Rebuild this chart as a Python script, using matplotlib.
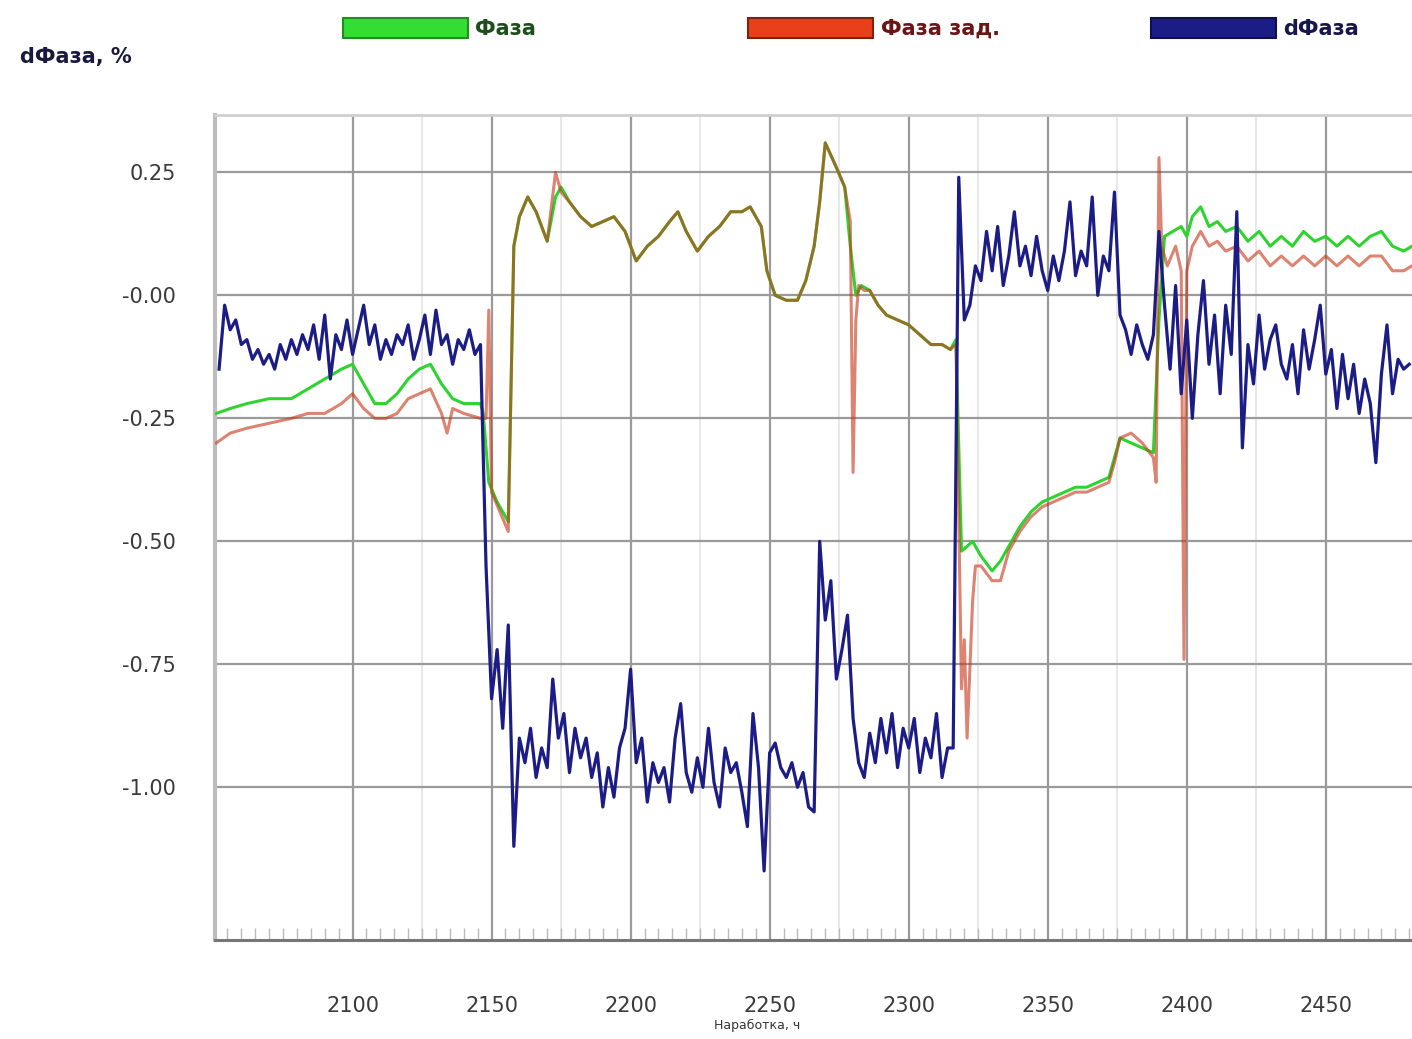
import numpy as np
import matplotlib.pyplot as plt
from matplotlib.patches import Patch
from matplotlib.ticker import MultipleLocator

# --- data -----------------------------------------------------------------
hours = np.arange(2052, 2482, 2)

dphase = [
    -0.15, -0.02, -0.07, -0.05, -0.10, -0.09, -0.13, -0.11, -0.14, -0.12,
    -0.15, -0.10, -0.13, -0.09, -0.12, -0.08, -0.11, -0.06, -0.13, -0.04,
    -0.17, -0.08, -0.11, -0.05, -0.12, -0.07, -0.02, -0.10, -0.06, -0.13,
    -0.09, -0.12, -0.08, -0.10, -0.06, -0.13, -0.09, -0.04, -0.12, -0.03,
    -0.10, -0.08, -0.14, -0.09, -0.11, -0.07, -0.12, -0.10,
    -0.55, -0.82, -0.72, -0.88, -0.67, -1.12, -0.90, -0.95, -0.88, -0.98,
    -0.92, -0.96, -0.78, -0.90, -0.85, -0.97, -0.88, -0.94, -0.90, -0.98,
    -0.93, -1.04, -0.96, -1.02, -0.92, -0.88, -0.76, -0.95, -0.90, -1.03,
    -0.95, -0.99, -0.96, -1.03, -0.90, -0.83, -0.97, -1.01, -0.94, -1.00,
    -0.88, -0.99, -1.04, -0.92, -0.97, -0.95, -1.01, -1.08, -0.85, -0.96,
    -1.17, -0.93, -0.91, -0.96, -0.98, -0.95, -1.00, -0.97, -1.04, -1.05,
    -0.50, -0.66, -0.58, -0.78, -0.72, -0.65, -0.86, -0.95, -0.98, -0.89,
    -0.95, -0.86, -0.93, -0.85, -0.96, -0.88, -0.92, -0.86, -0.97, -0.90,
    -0.94, -0.85, -0.98, -0.92,
    -0.92, 0.24, -0.05, -0.02, 0.06, 0.03, 0.13, 0.05, 0.14, 0.02,
    0.08, 0.17, 0.06, 0.10, 0.04, 0.12, 0.05, 0.01, 0.08, 0.03,
    0.09, 0.19, 0.04, 0.09, 0.06, 0.20, 0.00, 0.08, 0.05, 0.21,
    -0.04, -0.07, -0.12, -0.06, -0.10, -0.13, -0.08,
    0.13, -0.02, -0.15, 0.02, -0.20, -0.05, -0.25, -0.08, 0.03, -0.14,
    -0.04, -0.20, -0.02, -0.12, 0.17, -0.31, -0.10, -0.18, -0.04, -0.15,
    -0.09, -0.06, -0.14, -0.17, -0.10, -0.20, -0.07, -0.15, -0.09, -0.02,
    -0.16, -0.11, -0.23, -0.12, -0.21, -0.14, -0.24, -0.17, -0.22, -0.34,
    -0.16, -0.06, -0.20, -0.13, -0.15, -0.14,
]

phase_h = [2051, 2056, 2062, 2070, 2078, 2084, 2090, 2096, 2100, 2104,
           2108, 2112, 2116, 2120, 2124, 2128, 2132, 2136, 2140, 2146,
           2147, 2149, 2152, 2156, 2158, 2160, 2163, 2166, 2170, 2173,
           2175, 2178, 2182, 2186, 2190, 2194, 2198, 2202, 2206, 2210,
           2214, 2217, 2220, 2224, 2228, 2232, 2236, 2240, 2243, 2247,
           2249, 2252, 2256, 2260, 2263, 2266, 2268, 2270, 2274, 2277,
           2279, 2281, 2283, 2286, 2289, 2292, 2296, 2300, 2304, 2308,
           2312, 2315, 2317, 2319, 2323, 2326, 2330, 2333, 2336, 2340,
           2344, 2348, 2352, 2356, 2360, 2364, 2368, 2372, 2374, 2376,
           2380, 2384, 2388, 2390, 2392, 2395, 2398, 2400, 2402, 2405,
           2408, 2411, 2414, 2418, 2422, 2426, 2430, 2434, 2438, 2442,
           2446, 2450, 2454, 2458, 2462, 2466, 2470, 2474, 2478, 2481]
phase = [-0.24, -0.23, -0.22, -0.21, -0.21, -0.19, -0.17, -0.15, -0.14, -0.18,
         -0.22, -0.22, -0.20, -0.17, -0.15, -0.14, -0.18, -0.21, -0.22, -0.22,
         -0.24, -0.38, -0.42, -0.46, 0.10, 0.16, 0.20, 0.17, 0.11, 0.20,
         0.22, 0.19, 0.16, 0.14, 0.15, 0.16, 0.13, 0.07, 0.10, 0.12,
         0.15, 0.17, 0.13, 0.09, 0.12, 0.14, 0.17, 0.17, 0.18, 0.14,
         0.05, 0.00, -0.01, -0.01, 0.03, 0.10, 0.19, 0.31, 0.26, 0.22,
         0.10, 0.00, 0.02, 0.01, -0.02, -0.04, -0.05, -0.06, -0.08, -0.10,
         -0.10, -0.11, -0.09, -0.52, -0.50, -0.53, -0.56, -0.54, -0.51, -0.47,
         -0.44, -0.42, -0.41, -0.40, -0.39, -0.39, -0.38, -0.37, -0.33, -0.29,
         -0.30, -0.31, -0.32, -0.05, 0.12, 0.13, 0.14, 0.12, 0.16, 0.18,
         0.14, 0.15, 0.13, 0.14, 0.11, 0.13, 0.10, 0.12, 0.10, 0.13,
         0.11, 0.12, 0.10, 0.12, 0.10, 0.12, 0.13, 0.10, 0.09, 0.10]

phase_set_h = [2051, 2056, 2062, 2070, 2078, 2084, 2090, 2096, 2100, 2104,
               2108, 2112, 2116, 2120, 2124, 2128, 2132, 2134, 2136, 2140,
               2146, 2148, 2149, 2150, 2153, 2156, 2158, 2160, 2163, 2166,
               2170, 2173, 2175, 2178, 2182, 2186, 2190, 2194, 2198, 2202,
               2206, 2210, 2214, 2217, 2220, 2224, 2228, 2232, 2236, 2240,
               2243, 2247, 2249, 2252, 2256, 2260, 2263, 2266, 2268, 2270,
               2274, 2277, 2279, 2280, 2281, 2282, 2284, 2286, 2289, 2292,
               2296, 2300, 2304, 2308, 2312, 2315, 2317, 2319, 2320, 2321,
               2323, 2324, 2326, 2330, 2333, 2336, 2340, 2344, 2348, 2352,
               2356, 2360, 2364, 2368, 2372, 2374, 2376, 2380, 2384, 2388,
               2389, 2390, 2391, 2393, 2396, 2398, 2399, 2400, 2402, 2405,
               2408, 2411, 2414, 2418, 2422, 2426, 2430, 2434, 2438, 2442,
               2446, 2450, 2454, 2458, 2462, 2466, 2470, 2474, 2478, 2481]
phase_set = [-0.30, -0.28, -0.27, -0.26, -0.25, -0.24, -0.24, -0.22, -0.20, -0.23,
             -0.25, -0.25, -0.24, -0.21, -0.20, -0.19, -0.24, -0.28, -0.23, -0.24,
             -0.25, -0.25, -0.03, -0.40, -0.44, -0.48, 0.10, 0.16, 0.20, 0.17,
             0.11, 0.25, 0.21, 0.19, 0.16, 0.14, 0.15, 0.16, 0.13, 0.07,
             0.10, 0.12, 0.15, 0.17, 0.13, 0.09, 0.12, 0.14, 0.17, 0.17,
             0.18, 0.14, 0.05, 0.00, -0.01, -0.01, 0.03, 0.10, 0.19, 0.31,
             0.26, 0.22, 0.15, -0.36, -0.05, 0.02, 0.01, 0.01, -0.02, -0.04,
             -0.05, -0.06, -0.08, -0.10, -0.10, -0.11, -0.10, -0.80, -0.70, -0.90,
             -0.62, -0.55, -0.55, -0.58, -0.58, -0.52, -0.48, -0.45, -0.43, -0.42,
             -0.41, -0.40, -0.40, -0.39, -0.38, -0.34, -0.29, -0.28, -0.30, -0.33,
             -0.38, 0.28, 0.10, 0.06, 0.10, 0.05, -0.74, 0.05, 0.10, 0.13,
             0.10, 0.11, 0.09, 0.10, 0.07, 0.09, 0.06, 0.08, 0.06, 0.08,
             0.06, 0.08, 0.06, 0.08, 0.06, 0.08, 0.08, 0.05, 0.05, 0.06]

yticks = [0.25, 0.0, -0.25, -0.5, -0.75, -1.0]
ytick_labels = ['0.25', '-0.00', '-0.25', '-0.50', '-0.75', '-1.00']
xticks = [2100, 2150, 2200, 2250, 2300, 2350, 2400, 2450]
legend_names = ['Фаза', 'Фаза зад.', 'dФаза']

green = '#2fd32f'
red = '#c8381a'
blue = '#1c1c86'

# --- plot -----------------------------------------------------------------
fig = plt.figure(figsize=(14.12, 10.39), dpi=100)
ax = fig.add_axes([0.152, 0.095, 0.848, 0.794])

ax.plot(phase_h, phase, color=green, lw=2.2, zorder=3)
ax.plot(phase_set_h, phase_set, color=red, lw=2.2, alpha=0.62, zorder=4)
ax.plot(hours, dphase, color=blue, lw=2.3, zorder=5)

ax.set_xlim(2050.4, 2481)
ax.set_ylim(-1.311, 0.366)
ax.set_xticks(xticks)
ax.set_yticks(yticks, ytick_labels)
ax.xaxis.set_minor_locator(MultipleLocator(5))

ax.grid(True, which='major', color='#9a9a9a', lw=1.6)
ax.grid(False, which='minor')
for xv in [2125, 2175, 2225, 2275, 2325, 2375, 2425]:
    ax.axvline(xv, color='#e4e4e4', lw=1.2, zorder=0)

ax.tick_params(axis='both', which='major', length=0, labelsize=15,
               labelcolor='#3a3a3a')
ax.tick_params(axis='y', pad=28)
ax.tick_params(axis='x', pad=40)
ax.tick_params(axis='x', which='minor', direction='in', length=9,
               color='#bbbbbb', width=1)

ax.spines['left'].set_color('#bdbdbd')
ax.spines['left'].set_linewidth(3)
ax.spines['bottom'].set_color('#777777')
ax.spines['bottom'].set_linewidth(2.2)
ax.spines['top'].set_color('#cfcfcf')
ax.spines['top'].set_linewidth(2)
ax.spines['right'].set_visible(False)

ax.set_xlabel('Наработка, ч', fontsize=9, color='#333333')
ax.xaxis.set_label_coords(0.453, -0.095)
fig.text(0.014, 0.945, 'dФаза, %', fontsize=15, fontweight='bold',
         color='#1a1a40', ha='left', va='center')

legend_pos = [0.243, 0.530, 0.815]
face = ['#33dd33', '#e8401a', '#1c1c86']
edge = ['#1f8f1f', '#7a2410', '#10104a']
label_col = ['#1d4f1d', '#6a1616', '#16164a']
for name, fc, ec, tc, xpos in zip(legend_names, face, edge, label_col, legend_pos):
    h = Patch(facecolor=fc, edgecolor=ec, lw=1.5)
    lg = fig.legend([h], [name], loc='center left', bbox_to_anchor=(xpos, 0.973),
                    frameon=False, handlelength=6.0, handleheight=1.1,
                    handletextpad=0.35, borderpad=0, borderaxespad=0,
                    prop={'size': 15, 'weight': 'bold'})
    lg.get_texts()[0].set_color(tc)

fig.savefig('out.png', dpi=100)
